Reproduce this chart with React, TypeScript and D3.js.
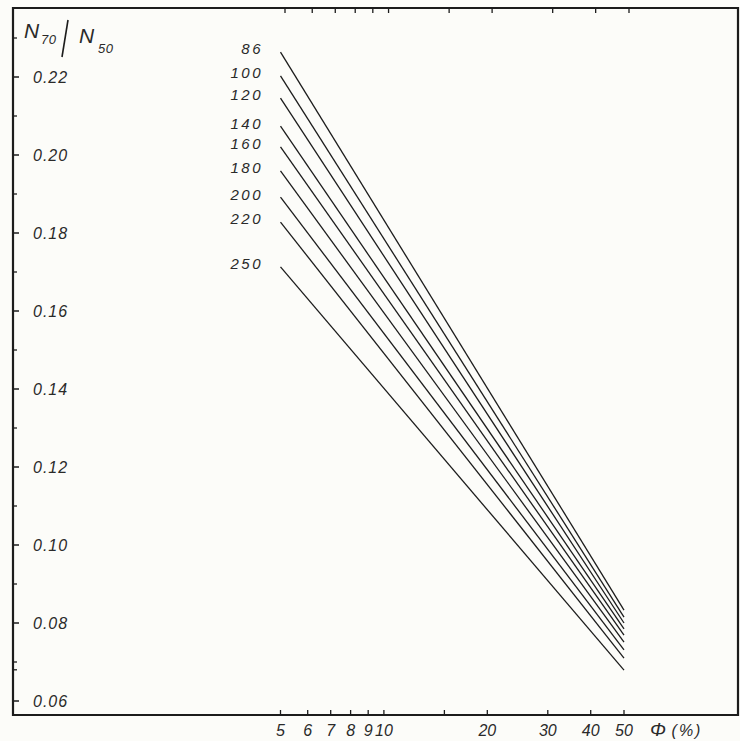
import React from "react";
import * as d3 from "d3";

// ---- data ----
const seriesLabels = ["86", "100", "120", "140", "160", "180", "200", "220", "250"];
const phiStart = 5;
const phiEnd = 50;
const startValues = [0.2264, 0.2203, 0.2146, 0.2074, 0.2021, 0.1959, 0.1892, 0.1828, 0.1713];
const endValues = [0.0833, 0.0815, 0.08, 0.0785, 0.0769, 0.0751, 0.0731, 0.071, 0.0679];
const xTickValues = [5, 6, 7, 8, 9, 10, 15, 20, 30, 40, 50];
const xTickLabels = ["5", "6", "7", "8", "9", "10", "", "20", "30", "40", "50"];
const yMajorTicks = [0.06, 0.08, 0.1, 0.12, 0.14, 0.16, 0.18, 0.2, 0.22];
const yMajorLabels = ["0.06", "0.08", "0.10", "0.12", "0.14", "0.16", "0.18", "0.20", "0.22"];
const yMinorTicks = [0.068, 0.07, 0.09, 0.11, 0.13, 0.15, 0.17, 0.19, 0.21, 0.23];

const W = 740;
const H = 741;
const frame = { left: 13, top: 8, right: 738, bottom: 715 };

const x = d3.scaleLog().domain([5, 50]).range([280.5, 624]);
const xTop = d3.scaleLog().domain([5, 50]).range([285, 629]);
const y = d3.scaleLinear().domain([0.06, 0.22]).range([701, 77]);

const ink = "#1c1c1c";
const textInk = "#2a2a2a";
const font = "'Liberation Sans', 'DejaVu Sans', sans-serif";

export default function App() {
  const line = d3
    .line<[number, number]>()
    .x((d) => x(d[0]))
    .y((d) => y(d[1]));

  return (
    <svg
      width={W}
      height={H}
      style={{ position: "absolute", left: 0, top: 0, background: "#fcfcf9" }}
      fontFamily={font}
    >
      <rect x={0} y={0} width={W} height={H} fill="#fcfcf9" />
      {/* frame */}
      <path
        d={`M${frame.left},${frame.bottom} L${frame.left},${frame.top} L${frame.right},${frame.top} L${frame.right},${frame.bottom} Z`}
        fill="none"
        stroke={ink}
        strokeWidth={2.2}
      />

      {/* y ticks */}
      {yMajorTicks.map((v, i) => (
        <g key={"ym" + i}>
          <line x1={frame.left} x2={frame.left + 6} y1={y(v)} y2={y(v)} stroke={ink} strokeWidth={1.5} />
          <text
            x={33}
            y={y(v)}
            dy="0.36em"
            fontSize={16}
            fontStyle="italic"
            letterSpacing={1}
            fill={textInk}
          >
            {yMajorLabels[i]}
          </text>
        </g>
      ))}
      {yMinorTicks.map((v, i) => (
        <line key={"yn" + i} x1={frame.left} x2={frame.left + 4} y1={y(v)} y2={y(v)} stroke={ink} strokeWidth={1.3} />
      ))}

      {/* bottom x ticks */}
      {xTickValues.map((v, i) => (
        <g key={"xb" + i}>
          <line x1={x(v)} x2={x(v)} y1={frame.bottom} y2={frame.bottom - 5} stroke={ink} strokeWidth={1.3} />
          {xTickLabels[i] && (
            <text
              x={x(v)}
              y={frame.bottom + 21}
              textAnchor="middle"
              fontSize={16}
              fontStyle="italic"
              fill={textInk}
            >
              {xTickLabels[i]}
            </text>
          )}
        </g>
      ))}
      <text x={x(50) + 34} y={frame.bottom + 21} textAnchor="middle" fontSize={19} fontStyle="italic" fill={textInk}>
        Φ
      </text>
      <text x={x(50) + 63} y={frame.bottom + 21} textAnchor="middle" fontSize={16} fontStyle="italic" letterSpacing={2} fill={textInk}>
        (%)
      </text>

      {/* top x ticks */}
      {xTickValues.map((v, i) => (
        <line key={"xt" + i} x1={xTop(v)} x2={xTop(v)} y1={frame.top} y2={frame.top + 5} stroke={ink} strokeWidth={1.3} />
      ))}

      {/* y title */}
      <g fill={textInk} fontStyle="italic">
        <text x={24} y={38} fontSize={21}>N</text>
        <text x={41} y={44} fontSize={13} letterSpacing={0.5}>70</text>
        <line x1={68} y1={20} x2={62} y2={57} stroke={ink} strokeWidth={1.6} />
        <text x={79} y={43} fontSize={21}>N</text>
        <text x={98} y={53} fontSize={13} letterSpacing={0.5}>50</text>
      </g>

      {/* series lines */}
      {seriesLabels.map((lab, i) => {
        const pts: [number, number][] = [
          [phiStart, startValues[i]],
          [phiEnd, endValues[i]],
        ];
        return (
          <g key={"s" + i}>
            <path d={line(pts) || ""} fill="none" stroke={ink} strokeWidth={1.3} />
            <text
              x={263}
              y={y(startValues[i]) - 3}
              dy="0.36em"
              textAnchor="end"
              fontSize={15}
              fontStyle="italic"
              letterSpacing={2.5}
              fill={textInk}
            >
              {lab}
            </text>
          </g>
        );
      })}
    </svg>
  );
}
